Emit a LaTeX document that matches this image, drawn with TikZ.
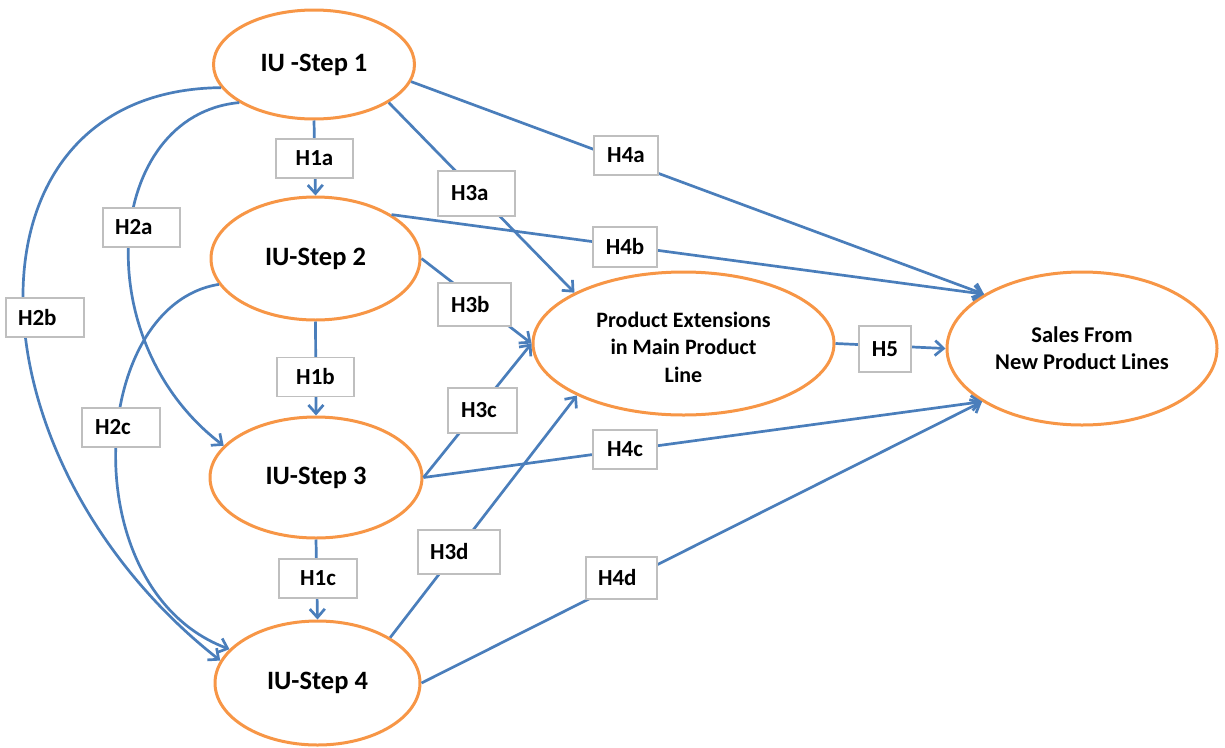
\documentclass[tikz,border=0pt]{standalone}
\usepackage{fontspec}
\setmainfont{Carlito}
\usetikzlibrary{arrows.meta,shapes.geometric}
\definecolor{ellorange}{HTML}{F79646}
\definecolor{linkblue}{HTML}{4A7EBB}
\definecolor{boxgray}{HTML}{BFBFBF}
\begin{document}
\begin{tikzpicture}[x=1pt,y=-1pt,
  stage/.style={ellipse, draw=ellorange, line width=3pt, fill=white, inner sep=0pt,
    font=\fontsize{26.5}{30}\selectfont\bfseries},
  outcome/.style={stage, align=center},
  boxbase/.style={rectangle, draw=boxgray, line width=1.5pt, fill=white, inner sep=0pt,
    font=\fontsize{23}{24}\selectfont\bfseries},
  hyp/.style 2 args={boxbase, minimum width=#1pt, minimum height=#2pt},
  lhyp/.style n args={3}{boxbase, minimum height=#2pt, align=left, inner xsep=#3pt, text width=#1pt},
  hyparrow/.style={draw=linkblue, line width=2.7pt, -{Straight Barb[length=8.5pt,width=15pt]}}
]
\useasboundingbox (0,0) rectangle (1225,747);

% constructs
\node[stage, minimum width=201pt, minimum height=109pt] (s1) at (314,64.5) {IU -Step 1};
\node[stage, minimum width=209pt, minimum height=123pt] (s2) at (315.5,258.5) {IU-Step 2};
\node[stage, minimum width=212pt, minimum height=121pt] (s3) at (316,477.5) {IU-Step 3};
\node[stage, minimum width=205pt, minimum height=124pt] (s4) at (317.5,683) {IU-Step 4};
\node[outcome, minimum width=301pt, minimum height=143pt,
      font=\fontsize{22}{27.5}\selectfont\bfseries] (pe) at (683.5,343.5)
      {\rule{0pt}{23pt}Product Extensions\\in Main Product\\Line};
\node[outcome, minimum width=270pt, minimum height=153pt,
      font=\fontsize{22.5}{27}\selectfont\bfseries] (sl) at (1082,348.5)
      {Sales From\\New Product Lines};

% H1 chain
\draw[hyparrow] (s1.south) -- (s2.north);
\draw[hyparrow] (s2.south) -- (s3.north);
\draw[hyparrow] (s3.south) -- (s4.north);

% H2 curves
\draw[hyparrow] (s1.207) .. controls (105,115) and (85,340) .. (s3.161);
\draw[hyparrow] (s1.194) .. controls (-45,90) and (-40,455) .. (s4.167);
\draw[hyparrow] (s2.195) .. controls (88,305) and (72,590) .. (s4.159);

% H3 links
\draw[hyparrow] (s1.-27.8) -- (pe.155.4);
\draw[hyparrow] (s2.east) -- (pe.west);
\draw[hyparrow] (s3.east) -- (pe.west);
\draw[hyparrow] (s4.32.4) -- (pe.206.7);

% H4 links
\draw[hyparrow] (s1.-10) -- (sl.151.1);
\draw[hyparrow] (s2.30.6) -- (sl.151.1);
\draw[hyparrow] (s3.east) -- (sl.208.4);
\draw[hyparrow] (s4.east) -- (sl.208.4);

% H5
\draw[hyparrow] (pe.east) -- (sl.west);

% hypothesis labels
\node[hyp={77}{39}] (h1a) at (314.5,158.5) {H1a};
\node[hyp={77}{39}] (h1b) at (315.5,377) {H1b};
\node[hyp={78}{39}] (h1c) at (318,578.5) {H1c};
\node[lhyp={53}{39}{12}] (h2a) at (141.5,227.5) {H2a};
\node[lhyp={54}{39}{12}] (h2b) at (45,317.5) {H2b};
\node[lhyp={52}{39}{13}] (h2c) at (121,427.5) {H2c};
\node[lhyp={51}{45}{13}] (h3a) at (476.5,193.5) {H3a};
\node[lhyp={47}{43}{13}] (h3b) at (474.5,304.5) {H3b};
\node[lhyp={43}{45}{13}] (h3c) at (482.5,410.5) {H3c};
\node[lhyp={58}{44}{12}] (h3d) at (459,552) {H3d};
\node[hyp={64}{39}] (h4a) at (626,155.5) {H4a};
\node[hyp={64}{40}] (h4b) at (625,247) {H4b};
\node[hyp={64}{39}] (h4c) at (625,449.5) {H4c};
\node[lhyp={47}{42}{12}] (h4d) at (621.5,578) {H4d};
\node[hyp={52}{46}] (h5) at (885,349) {H5};
\end{tikzpicture}
\end{document}
